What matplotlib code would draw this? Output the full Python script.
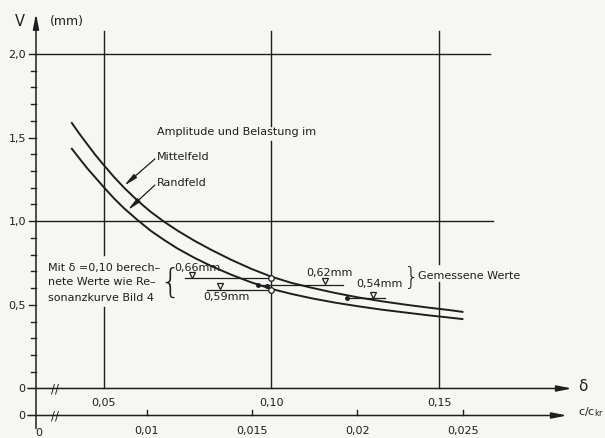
import numpy as np
import matplotlib.pyplot as plt

# Resonance amplitude V (mm) against the logarithmic decrement delta
delta_mittel = [0.0404, 0.0425, 0.045, 0.0475, 0.050, 0.053, 0.056, 0.060, 0.064,
                0.068, 0.072, 0.077, 0.082, 0.088, 0.094, 0.100, 0.106, 0.112,
                0.119, 0.126, 0.133, 0.140, 0.147, 0.153, 0.157]
v_mittel = [1.587, 1.527, 1.460, 1.394, 1.334, 1.264, 1.200, 1.123, 1.055,
            0.996, 0.943, 0.883, 0.829, 0.769, 0.715, 0.668, 0.631, 0.602,
            0.571, 0.544, 0.521, 0.501, 0.483, 0.469, 0.458]

delta_rand = [0.0404, 0.0425, 0.045, 0.0475, 0.050, 0.053, 0.056, 0.060, 0.064,
              0.068, 0.072, 0.077, 0.082, 0.088, 0.094, 0.100, 0.106, 0.112,
              0.119, 0.126, 0.133, 0.140, 0.147, 0.153, 0.157]
v_rand = [1.433, 1.379, 1.316, 1.259, 1.202, 1.136, 1.077, 1.007, 0.942,
          0.887, 0.836, 0.781, 0.732, 0.680, 0.634, 0.595, 0.565, 0.539,
          0.513, 0.491, 0.471, 0.454, 0.437, 0.424, 0.415]

# values computed with delta = 0.10
calc_values = [0.66, 0.59]
calc_from = [0.0742, 0.0807]
calc_marker = [0.0762, 0.0846]

# measured values
meas_values = [0.62, 0.54]
meas_from = [0.0961, 0.1224]
meas_to = [0.1213, 0.1339]
meas_marker = [0.1160, 0.1302]
meas_dots_x = [0.0961, 0.0986, 0.1224]
meas_dots_y = [0.62, 0.612, 0.54]

delta_ticks = [0.05, 0.10, 0.15]
delta_labels = ['0,05', '0,10', '0,15']
c_ticks = [0.01, 0.015, 0.02, 0.025]
c_labels = ['0,01', '0,015', '0,02', '0,025']
v_labels = {2.0: '2,0', 1.5: '1,5', 1.0: '1,0', 0.5: '0,5'}

ink = '#1e1e1e'
paper = '#f6f6f3'
fs = 8

fig = plt.figure(figsize=(6.05, 4.39), dpi=100, facecolor=paper)
ax = fig.add_axes([0, 0, 1, 1], facecolor=paper)
ax.set_xlim(0.01896, 0.19955)
ax.set_ylim(-0.2959, 2.328)
ax.axis('off')

x0 = 0.0297      # position of the V axis
y_c = -0.1614    # second abscissa (c/c_kr)

axis_arrow = dict(arrowstyle='-|>,head_length=0.9,head_width=0.18', color=ink,
                  lw=1.1, mutation_scale=10, shrinkA=0, shrinkB=0)

# V axis with arrow
ax.annotate('', xy=(x0, 2.24), xytext=(x0, -0.24), arrowprops=axis_arrow)
for v in np.arange(1, 21) / 10:
    big = round(v * 10) % 5 == 0
    ax.plot([x0 - (0.0021 if big else 0.0016), x0], [v, v], color=ink, lw=1)
for v, lab in v_labels.items():
    ax.text(x0 - 0.0030, v, lab, ha='right', va='center', fontsize=fs, color=ink)
ax.text(0.0249, 2.20, 'V', ha='center', va='center', fontsize=10.5, color=ink)
ax.text(0.0337, 2.20, '(mm)', ha='left', va='center', fontsize=9, color=ink)

# delta axis and c/c_kr axis
for yy, tip in [(0, 0.1897), (y_c, 0.1882)]:
    ax.annotate('', xy=(tip, yy), xytext=(0.0273, yy), arrowprops=axis_arrow)
    ax.text(0.0255, yy, '0', ha='center', va='center', fontsize=fs, color=ink)
    ax.text(0.0354, yy, '//', ha='center', va='center', fontsize=8.5, color=ink)
ax.text(0.1930, 0.02, 'δ', ha='center', va='center', fontsize=11, color=ink)
ax.text(0.1915, y_c + 0.025, r'c/c$_{\mathrm{kr}}$', ha='left', va='center',
        fontsize=fs, color=ink)
ax.text(x0 + 0.0008, -0.262, '0', ha='center', va='center', fontsize=fs, color=ink)

for d, lab in zip(delta_ticks, delta_labels):
    ax.text(d, -0.078, lab, ha='center', va='center', fontsize=fs, color=ink)
c_pos = [2 * np.pi * c for c in c_ticks]
for d, lab in zip(c_pos, c_labels):
    ax.plot([d, d], [y_c, y_c + 0.03], color=ink, lw=1)
    ax.text(d, -0.248, lab, ha='center', va='center', fontsize=fs, color=ink)

# grid lines, broken where text sits
ax.plot([x0, 0.1652], [2.0, 2.0], color=ink, lw=1)
ax.plot([x0, 0.1661], [1.0, 1.0], color=ink, lw=1)
gaps = {0.05: (0.49, 0.80), 0.10: (1.48, 1.57), 0.15: (0.636, 0.744)}
for d in delta_ticks:
    lo, hi = gaps[d]
    ax.plot([d, d], [0, lo], color=ink, lw=1)
    ax.plot([d, d], [hi, 2.137], color=ink, lw=1)

# the two resonance curves
ax.plot(delta_mittel, v_mittel, color=ink, lw=1.4, solid_joinstyle='round')
ax.plot(delta_rand, v_rand, color=ink, lw=1.4, solid_joinstyle='round')

ax.text(0.0658, 1.541, 'Amplitude und Belastung im', ha='left', va='center',
        fontsize=fs, color=ink)
ax.text(0.0658, 1.388, 'Mittelfeld', ha='left', va='center', fontsize=fs, color=ink)
ax.text(0.0658, 1.2325, 'Randfeld', ha='left', va='center', fontsize=fs, color=ink)
leader = dict(arrowstyle='-|>,head_length=0.8,head_width=0.14', color=ink, lw=0.9,
              mutation_scale=10, shrinkA=0, shrinkB=0)
ax.annotate('', xy=(0.0560, 1.212), xytext=(0.0652, 1.372), arrowprops=leader)
ax.annotate('', xy=(0.0571, 1.066), xytext=(0.0652, 1.216), arrowprops=leader)

# computed values
ax.text(0.0333, 0.7245, 'Mit δ =0,10 berech–', ha='left', va='center', fontsize=fs, color=ink)
ax.text(0.0333, 0.644, 'nete Werte wie Re–', ha='left', va='center', fontsize=fs, color=ink)
ax.text(0.0333, 0.545, 'sonanzkurve Bild 4', ha='left', va='center', fontsize=fs, color=ink)
ax.text(0.0697, 0.637, '{', ha='center', va='center', fontsize=24, color=ink,
        fontweight='light')
for v, x1, xm in zip(calc_values, calc_from, calc_marker):
    ax.plot([x1, 0.10], [v, v], color=ink, lw=0.9)
    ax.plot(xm, v + 0.02, marker='v', ms=5, mfc=paper, mec=ink, mew=0.9)
ax.plot([0.10, 0.10], calc_values, 'o', ms=4, mfc=paper, mec=ink, mew=0.9)
ax.text(0.0709, 0.7245, '0,66mm', ha='left', va='center', fontsize=fs, color=ink)
ax.text(0.0796, 0.5547, '0,59mm', ha='left', va='center', fontsize=fs, color=ink)

# measured values
for v, x1, x2, xm in zip(meas_values, meas_from, meas_to, meas_marker):
    ax.plot([x1, x2], [v, v], color=ink, lw=0.9)
    ax.plot(xm, v + 0.02, marker='v', ms=5, mfc=paper, mec=ink, mew=0.9)
ax.plot(meas_dots_x, meas_dots_y, 'o', ms=2.5, color=ink)
ax.text(0.1105, 0.698, '0,62mm', ha='left', va='center', fontsize=fs, color=ink)
ax.text(0.1254, 0.629, '0,54mm', ha='left', va='center', fontsize=fs, color=ink)
ax.text(0.1419, 0.668, '}', ha='center', va='center', fontsize=17, color=ink,
        fontweight='light')
ax.text(0.1437, 0.678, 'Gemessene Werte', ha='left', va='center', fontsize=fs, color=ink)

fig.savefig('out.png', dpi=100, facecolor=paper)
